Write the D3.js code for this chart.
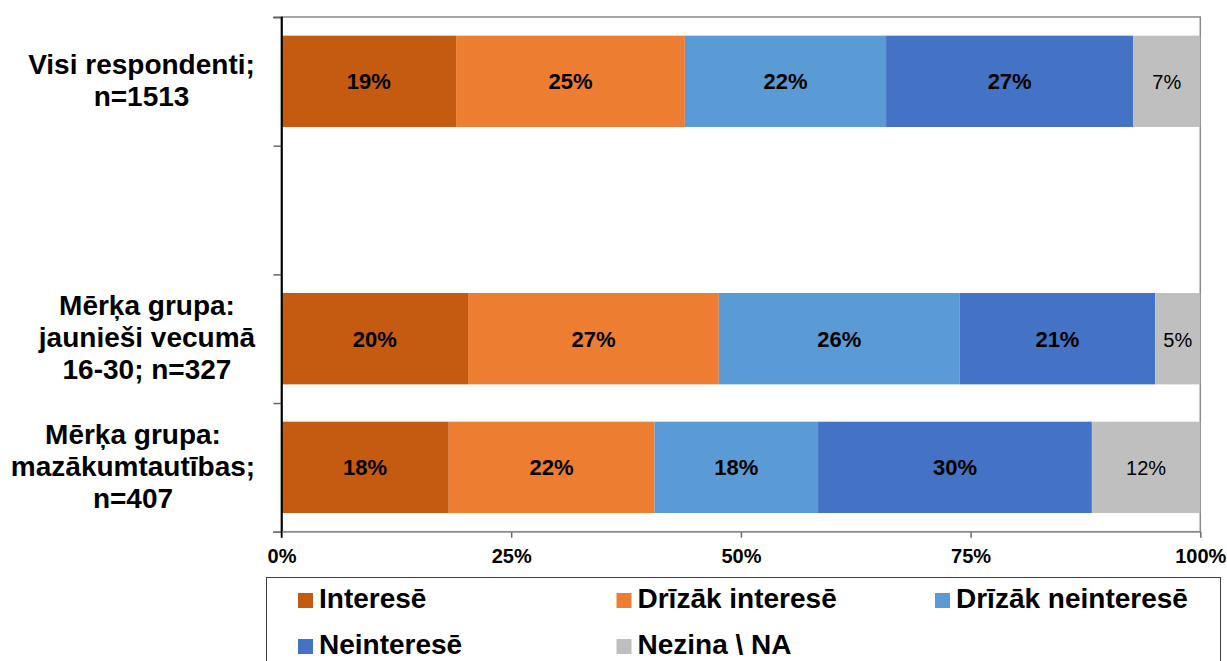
<!DOCTYPE html>
<html>
<head>
<meta charset="utf-8">
<script src="https://cdn.jsdelivr.net/npm/d3@7"></script>
<style>
  html, body { margin: 0; padding: 0; background: #fff; }
  svg { display: block; font-family: "Liberation Sans", Arial, sans-serif; }
</style>
</head>
<body>
<svg id="chart" width="1227" height="661"></svg>
<script>
// ---- data ----
const categories = ["Visi respondenti; n=1513", "", "Mērķa grupa: jaunieši vecumā 16-30; n=327", "Mērķa grupa: mazākumtautības; n=407"];
const categoryLines = [
  ["Visi respondenti;", "n=1513"],
  [],
  ["Mērķa grupa:", "jaunieši vecumā", "16-30; n=327"],
  ["Mērķa grupa:", "mazākumtautības;", "n=407"]
];
const seriesNames = ["Interesē", "Drīzāk interesē", "Drīzāk neinteresē", "Neinteresē", "Nezina \\ NA"];
const interese        = [19.0, null, 20.3, 18.2];
const drizakInterese  = [24.9, null, 27.3, 22.4];
const drizakNeinterese= [21.9, null, 26.2, 17.8];
const neinterese      = [26.9, null, 21.3, 29.8];
const nezina          = [7.3,  null, 4.9, 11.8];
const xTicks = [0, 25, 50, 75, 100];

const seriesValues = [interese, drizakInterese, drizakNeinterese, neinterese, nezina];
const colors = ["#C55A11", "#ED7D31", "#5B9BD5", "#4472C4", "#BFBFBF"];

// ---- layout ----
const svg = d3.select("#chart");
const x0 = 281.5, x1 = 1200.3, y0 = 17, y1 = 531.7;
const labelCenterX = [141.5, 141.5, 147, 133];

const x = d3.scaleLinear().domain([0, 100]).range([x0, x1]);
const y = d3.scaleBand().domain(categories.map((c, i) => i)).range([y0, y1])
  .paddingInner(0.29).paddingOuter(0.145);
const yEdge = d3.scaleLinear().domain([0, categories.length]).range([y0, y1]);

// plot frame
svg.append("rect")
  .attr("x", x0).attr("y", y0).attr("width", x1 - x0).attr("height", y1 - y0)
  .attr("fill", "none").attr("stroke", "#898989").attr("stroke-width", 1.5);

// stacked bars
const rows = categories.map((c, i) => {
  let acc = 0;
  return seriesValues.map((s, k) => {
    const v = s[i];
    if (v == null) return null;
    const seg = { cat: i, k, v, start: acc, end: acc + v };
    acc += v;
    return seg;
  }).filter(d => d);
});
const segs = rows.flat();

svg.append("g").selectAll("rect").data(segs).join("rect")
  .attr("x", d => x(d.start))
  .attr("y", d => y(d.cat))
  .attr("width", d => x(d.end) - x(d.start))
  .attr("height", y.bandwidth())
  .attr("fill", d => colors[d.k]);

svg.append("g").selectAll("text").data(segs).join("text")
  .attr("x", d => (x(d.start) + x(d.end)) / 2)
  .attr("y", d => y(d.cat) + y.bandwidth() / 2 + 8)
  .attr("text-anchor", "middle")
  .attr("font-size", d => d.k === 4 ? 20 : 22)
  .attr("font-weight", d => d.k === 4 ? "normal" : "bold")
  .attr("fill", "#000")
  .text(d => Math.round(d.v) + "%");

// left axis (band edges)
const yAxis = svg.append("g").attr("transform", `translate(${x0},0)`)
  .call(d3.axisLeft(yEdge).tickValues(d3.range(categories.length + 1)).tickSize(8).tickFormat(""));
yAxis.select(".domain").attr("stroke", "#000").attr("stroke-width", 1.5);
yAxis.selectAll(".tick line").attr("stroke", "#6a6a6a").attr("stroke-width", 1.5);

// category labels
categories.forEach((c, i) => {
  const lines = categoryLines[i];
  const cy = y(i) + y.bandwidth() / 2;
  const n = lines.length;
  lines.forEach((ln, j) => {
    svg.append("text")
      .attr("x", labelCenterX[i])
      .attr("y", cy + 8.3 + (j - (n - 1) / 2) * 32)
      .attr("text-anchor", "middle")
      .attr("font-size", 28)
      .attr("font-weight", "bold")
      .attr("fill", "#000")
      .text(ln);
  });
});

// bottom axis
const xAxis = svg.append("g").attr("transform", `translate(0,${y1})`)
  .call(d3.axisBottom(x).tickValues(xTicks).tickSize(6).tickFormat(d => d + "%"));
xAxis.select(".domain").remove();
xAxis.selectAll(".tick line").attr("stroke", "#6a6a6a").attr("stroke-width", 1.5);
xAxis.selectAll(".tick text")
  .attr("y", 31).attr("dy", 0)
  .attr("font-size", 20).attr("font-weight", "bold")
  .attr("font-family", "Liberation Sans, Arial, sans-serif")
  .attr("fill", "#000");
svg.append("line").attr("x1", x0 - 8).attr("x2", x1).attr("y1", y1).attr("y2", y1)
  .attr("stroke", "#898989").attr("stroke-width", 1.5);
svg.append("line").attr("x1", x0).attr("x2", x0).attr("y1", y0).attr("y2", y1 + 6)
  .attr("stroke", "#000").attr("stroke-width", 1.5);

// legend
svg.append("rect")
  .attr("x", 266.5).attr("y", 577.5).attr("width", 954).attr("height", 120)
  .attr("fill", "#fff").attr("stroke", "#404040").attr("stroke-width", 1);
const lg = svg.append("g").selectAll("g").data(seriesNames).join("g")
  .attr("transform", (d, i) => `translate(${298 + (i % 3) * 318.5},${593 + Math.floor(i / 3) * 46})`);
lg.append("rect").attr("width", 15).attr("height", 15).attr("fill", (d, i) => colors[i]);
lg.append("text").attr("x", 21).attr("y", 15)
  .attr("font-size", 28).attr("font-weight", "bold").attr("fill", "#000")
  .text(d => d);
</script>
</body>
</html>
